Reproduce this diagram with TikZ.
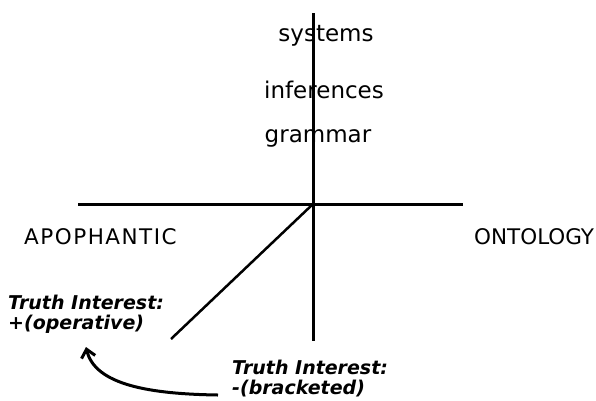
\documentclass[tikz,border=0pt]{standalone}
\usepackage{fontspec}
\setmainfont{DejaVu Sans}
\usetikzlibrary{arrows.meta}
\begin{document}
\begin{tikzpicture}[x=1pt,y=-1pt,
  axis/.style={line width=3pt},
  lbl/.style={inner sep=0pt,anchor=center,font=\fontsize{23}{26}\selectfont},
  caplbl/.style={inner sep=0pt,anchor=west,font=\fontsize{21.5}{25}\selectfont},
  note/.style={inner sep=0pt,anchor=west,align=left,font=\fontsize{19}{20}\selectfont\bfseries\itshape},
  curvearrow/.style={line width=3pt,-{Straight Barb[length=8pt,width=14pt,line width=3pt]}}]
\useasboundingbox (0,0) rectangle (596,400);
% axes
\coordinate (vtop) at (313,13);
\coordinate (vbot) at (313,341);
\coordinate (hl) at (78,204);
\coordinate (hr) at (463,204);
\coordinate (o) at (313,204);
\coordinate (diag) at (171,339);
\draw[axis] (vtop) -- (vbot);
\draw[axis] (hl) -- (hr);
\draw[line width=2.5pt] (o) -- (diag);
% labels
\node[lbl] (sys) at (326,36) {systems};
\node[lbl] (inf) at (324,90) {inferences};
\node[lbl] (gram) at (318,138) {grammar};
\node[caplbl,font=\fontsize{21.5}{25}\selectfont\addfontfeatures{LetterSpace=7}] (apo) at (24,237) {APOPHANTIC};
\node[caplbl] (ont) at (474,237) {ONTOLOGY};
\node[note] (op) at (8,314) {Truth Interest:\\+(operative)};
\node[note] (brk) at (232,379) {Truth Interest:\\-(bracketed)};
\coordinate (as) at (218,395);
\draw[curvearrow] (as) .. controls (150,394) and (95,385) .. (86,347);
\end{tikzpicture}
\end{document}
